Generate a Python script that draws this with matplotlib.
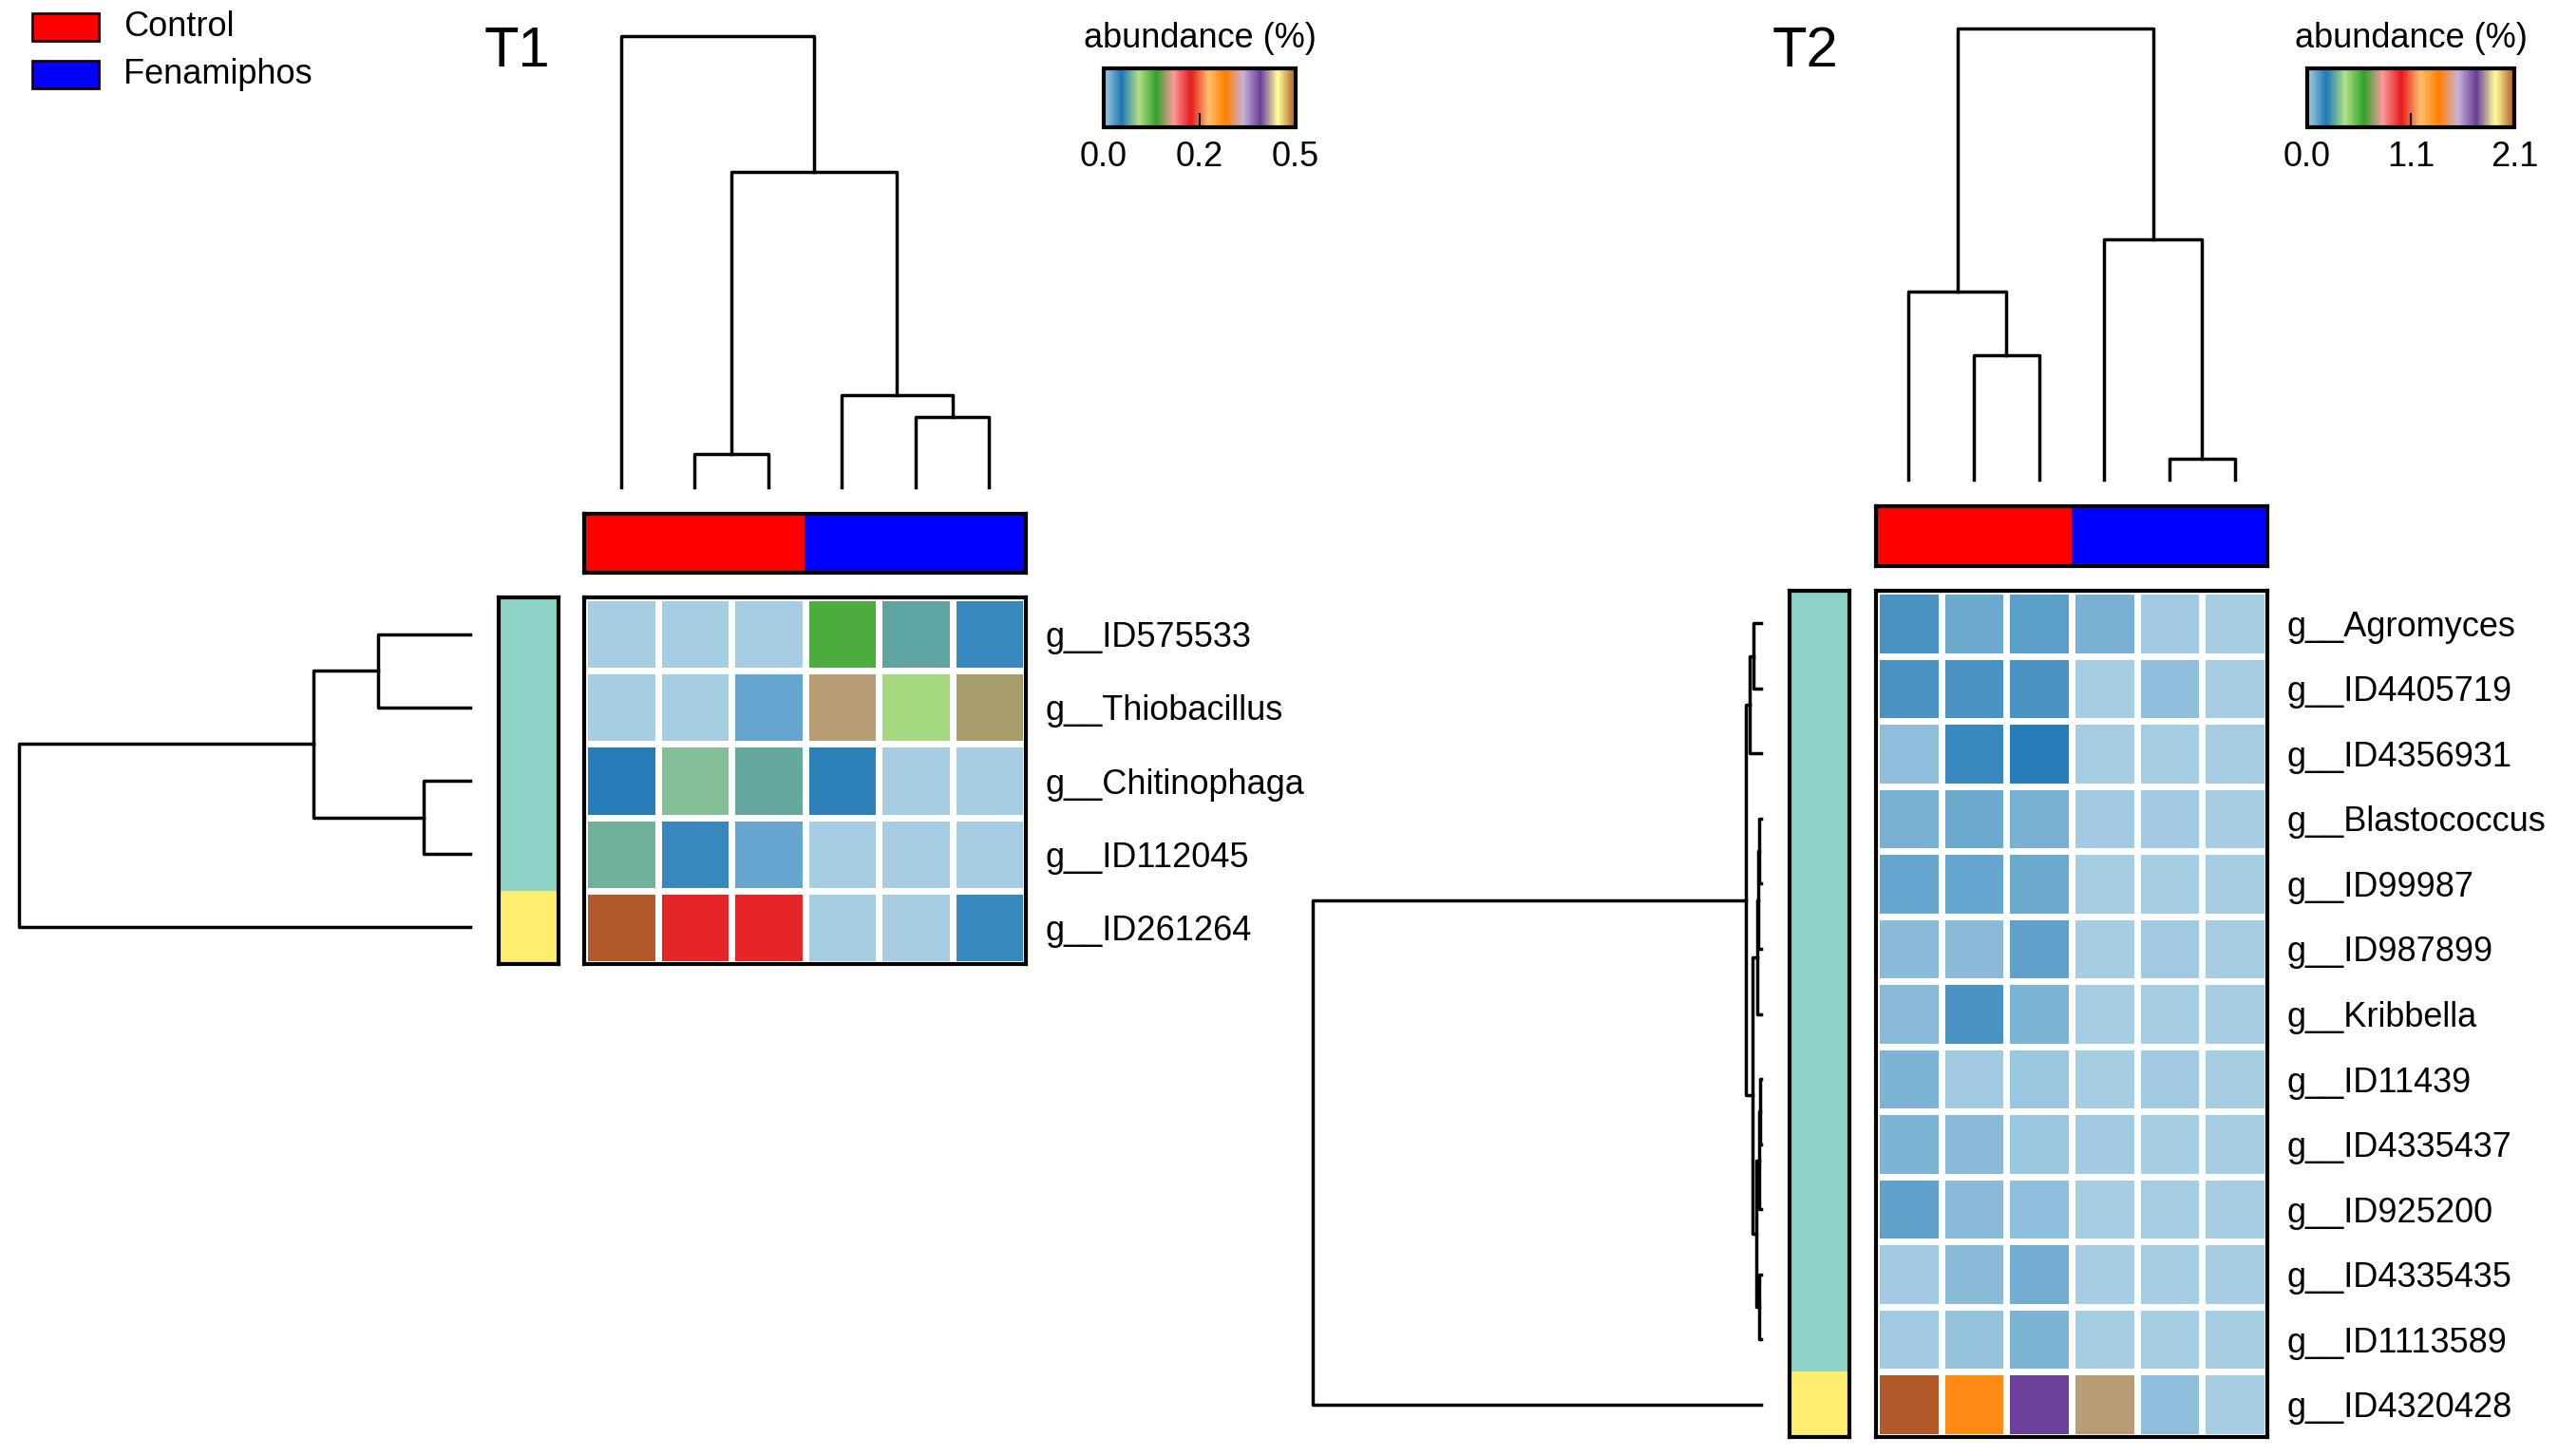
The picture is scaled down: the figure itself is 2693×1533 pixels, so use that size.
import numpy as np
import matplotlib
matplotlib.use('Agg')
import matplotlib.pyplot as plt
from matplotlib.colors import LinearSegmentedColormap, ListedColormap, Normalize
from matplotlib.patches import Rectangle
from matplotlib.cm import ScalarMappable

plt.rcParams['font.family'] = ['Liberation Sans', 'DejaVu Sans']

W, H = 2693, 1533

# ---- data ----
groups = ['Control', 'Fenamiphos']
group_colors = ['#ff0000', '#0000ff']
col_groups = [0, 0, 0, 1, 1, 1]
cluster_colors = ['#8dd3c7', '#ffed6f']

# T1
t1_rows = ['g__ID575533', 'g__Thiobacillus', 'g__Chitinophaga', 'g__ID112045', 'g__ID261264']
t1_vmax = 0.48
t1_values = np.array([
    [0.001, 0.001, 0.0015, 0.122, 0.062, 0.036],
    [0.0015, 0.001, 0.022, 0.160, 0.093, 0.156],
    [0.042, 0.074, 0.064, 0.041, 0.001, 0.0015],
    [0.068, 0.036, 0.022, 0.0015, 0.0015, 0.0015],
    [0.480, 0.214, 0.215, 0.001, 0.0015, 0.036],
])
t1_row_clusters = [0, 0, 0, 0, 1]
# merges: (left, right, height) scipy style, leaves in display order
t1_col_merges = [(1, 2, 0.074), (4, 5, 0.156), (3, 7, 0.204), (6, 8, 0.70), (0, 9, 1.0)]
t1_row_merges = [(0, 1, 0.204), (2, 3, 0.103), (5, 6, 0.347), (7, 4, 1.0)]

# T2
t2_rows = ['g__Agromyces', 'g__ID4405719', 'g__ID4356931', 'g__Blastococcus',
           'g__ID99987', 'g__ID987899', 'g__Kribbella', 'g__ID11439',
           'g__ID4335437', 'g__ID925200', 'g__ID4335435', 'g__ID1113589',
           'g__ID4320428']
t2_vmax = 2.12
t2_values = np.array([
    [0.138, 0.085, 0.108, 0.068, 0.011, 0.002],
    [0.138, 0.138, 0.134, 0.000, 0.036, 0.002],
    [0.038, 0.165, 0.184, 0.000, 0.004, 0.002],
    [0.072, 0.085, 0.070, 0.013, 0.013, 0.002],
    [0.093, 0.093, 0.085, 0.002, 0.004, 0.002],
    [0.045, 0.047, 0.106, 0.002, 0.011, 0.002],
    [0.042, 0.138, 0.061, 0.002, 0.004, 0.002],
    [0.064, 0.015, 0.021, 0.002, 0.011, 0.002],
    [0.066, 0.045, 0.021, 0.013, 0.008, 0.002],
    [0.106, 0.047, 0.038, 0.000, 0.002, 0.002],
    [0.011, 0.049, 0.081, 0.002, 0.006, 0.002],
    [0.013, 0.032, 0.061, 0.000, 0.004, 0.002],
    [2.120, 1.310, 1.730, 0.710, 0.038, 0.002],
])
t2_row_clusters = [0] * 12 + [1]
t2_col_merges = [(1, 2, 0.276), (0, 6, 0.417), (4, 5, 0.046), (3, 8, 0.533), (7, 9, 1.0)]
t2_row_merges = [(0, 1, 0.017), (13, 2, 0.026), (3, 4, 0.004), (15, 5, 0.006),
                 (16, 6, 0.008), (7, 8, 0.003), (18, 9, 0.005), (10, 11, 0.004),
                 (19, 20, 0.010), (17, 21, 0.019), (14, 22, 0.034), (23, 12, 1.0)]

cmap = LinearSegmentedColormap.from_list('paired_smooth', plt.get_cmap('Paired').colors)

fig = plt.figure(figsize=(W / 100, H / 100), dpi=100)


def add_ax(x, y, w, h):
    # pixel box (top-left origin) -> figure axes
    return fig.add_axes([x / W, 1 - (y + h) / H, w / W, h / H])


def draw_dendro(ax, merges, n, orient):
    pos = {i: float(i) for i in range(n)}
    hgt = {i: 0.0 for i in range(n)}
    for k, (a, b, h) in enumerate(merges):
        xs = [hgt[a], h, h, hgt[b]]
        ys = [pos[a], pos[a], pos[b], pos[b]]
        if orient == 'top':
            ax.plot(ys, xs, color='black', lw=2.5, clip_on=False)
        else:
            ax.plot(xs, ys, color='black', lw=2.5, clip_on=False)
        pos[n + k] = (pos[a] + pos[b]) / 2
        hgt[n + k] = h
    if orient == 'top':
        ax.set_xlim(-0.5, n - 0.5)
        ax.set_ylim(0, 1)
    else:
        ax.set_xlim(1, 0)
        ax.set_ylim(n - 0.5, -0.5)
    ax.axis('off')


def frame(ax, lw=3):
    for s in ax.spines.values():
        s.set_linewidth(lw)
        s.set_color('black')
    ax.set_xticks([])
    ax.set_yticks([])


def panel(values, vmax, rows, row_clusters, col_merges, row_merges, box, title):
    hx, hy, hw, hh, top, gy, gh, rcx, rcw, rdx, rdw, tx, cbx, cbw = box
    n, m = values.shape
    # column dendrogram
    ax = add_ax(hx, top, hw, gy - 28 - top)
    draw_dendro(ax, col_merges, m, 'top')
    # group bar
    ax = add_ax(hx, gy, hw, gh)
    ax.imshow([col_groups], cmap=ListedColormap(group_colors), aspect='auto', vmin=0, vmax=1)
    frame(ax)
    # heatmap
    ax = add_ax(hx, hy, hw, hh)
    ax.pcolormesh(values, cmap=cmap, norm=Normalize(0, vmax), edgecolors='white', linewidth=5)
    ax.set_xlim(0, m)
    ax.set_ylim(n, 0)
    frame(ax)
    ax.yaxis.tick_right()
    ax.set_yticks(np.arange(n) + 0.5)
    ax.set_yticklabels(rows, fontsize=26)
    ax.tick_params(axis='y', length=0, pad=15)
    # row cluster colors
    ax = add_ax(rcx, hy, rcw, hh)
    ax.imshow(np.array(row_clusters)[:, None], cmap=ListedColormap(cluster_colors),
              aspect='auto', vmin=0, vmax=1)
    frame(ax)
    # row dendrogram
    ax = add_ax(rdx, hy, rdw, hh)
    draw_dendro(ax, row_merges, n, 'left')
    # title
    fig.text(tx / W, 1 - 54 / H, title, fontsize=43, ha='left', va='center')
    # colorbar
    cax = add_ax(cbx, 72, cbw, 62)
    cb = fig.colorbar(ScalarMappable(norm=Normalize(0, vmax), cmap=cmap), cax=cax,
                      orientation='horizontal', ticks=[0, vmax / 2, vmax], format='%.1f')
    cb.outline.set_linewidth(3)
    cax.tick_params(direction='in', length=11, width=1.5, labelsize=26, pad=10)
    fig.text((cbx + cbw / 2) / W, 1 - 40 / H, 'abundance (%)', fontsize=26,
             ha='center', va='center')


panel(t1_values, t1_vmax, t1_rows, t1_row_clusters, t1_col_merges, t1_row_merges,
      (615, 629, 465, 386, 38, 541, 62, 525, 63, 20, 475, 510, 1162, 202), 'T1')
panel(t2_values, t2_vmax, t2_rows, t2_row_clusters, t2_col_merges, t2_row_merges,
      (1975, 622, 412, 891, 30, 533, 63, 1884, 63, 1382, 472, 1866, 2429, 218), 'T2')

# legend
for i, (g, c) in enumerate(zip(groups, group_colors)):
    y0 = 14 + 50 * i
    fig.patches.append(Rectangle((34 / W, 1 - (y0 + 29) / H), 70 / W, 29 / H,
                                 transform=fig.transFigure, facecolor=c,
                                 edgecolor='#200000', linewidth=2))
    fig.text(130 / W, 1 - (y0 + 15) / H, g, fontsize=26, ha='left', va='center')

fig.savefig('out.png', dpi=100, facecolor='white')
